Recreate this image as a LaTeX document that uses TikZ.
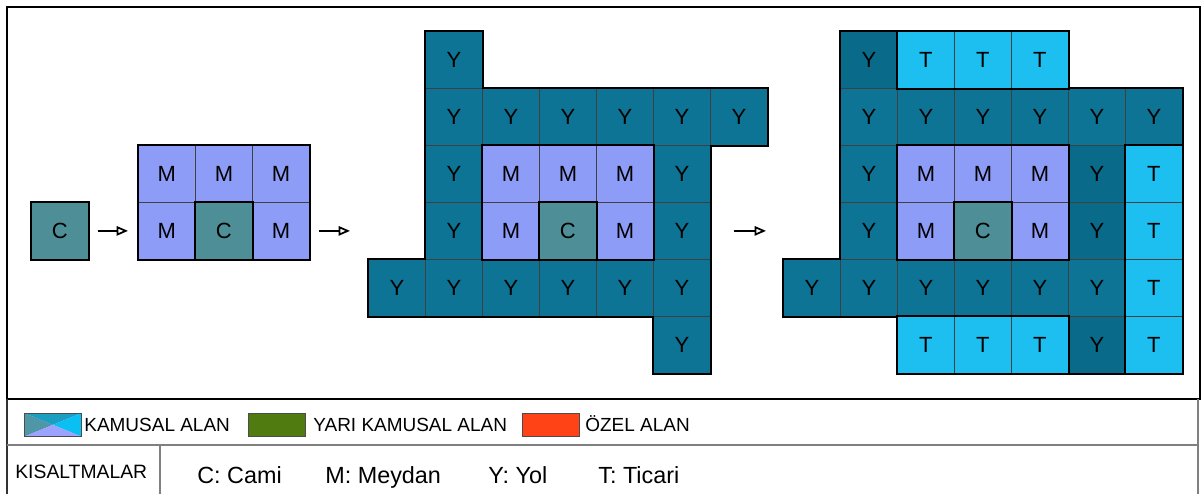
\documentclass[tikz,border=0pt]{standalone}
\usepackage{fontspec}
\setmainfont{Liberation Sans}
\usepackage{tikz}
\usetikzlibrary{arrows.meta,positioning}
\definecolor{yolBlue}{HTML}{0D7495}
\definecolor{yolDark}{HTML}{0A6A8A}
\definecolor{meydanViolet}{HTML}{8D9CF7}
\definecolor{camiTeal}{HTML}{4E8E97}
\definecolor{ticariCyan}{HTML}{1DBFF0}
\definecolor{yariGreen}{HTML}{4F7B10}
\definecolor{ozelRed}{HTML}{FF4316}
\definecolor{kamLeft}{HTML}{4F96A6}
\definecolor{kamTop}{HTML}{1B9EC2}
\definecolor{kamRight}{HTML}{0AC0F2}
\definecolor{kamBottom}{HTML}{9BA2FF}
\newcommand\hucrefont{\fontsize{12.5}{14}\selectfont}
\newcommand\lejantfont{\fontsize{10.8}{12}\selectfont}
\newcommand\kisafont{\fontsize{13.3}{15}\selectfont}

\begin{document}
\begin{tikzpicture}[
    x=0.2mm,y=-0.2mm,
    cell/.style={draw=black!75,line width=0.45pt,minimum size=11.4mm,inner sep=0pt,anchor=north west,font=\hucrefont},
    yol/.style={cell,fill=yolBlue},
    koyu/.style={cell,fill=yolDark},
    meydan/.style={cell,fill=meydanViolet},
    cami/.style={cell,fill=camiTeal},
    ticari/.style={cell,fill=ticariCyan},
    edge/.style={line width=1.1pt,line join=miter},
    arrow/.style={-{Triangle[open,length=2.3mm,width=1.9mm]},line width=1pt},
    swatch/.style={draw=black!70,line width=0.4pt,minimum width=11.4mm,minimum height=4.6mm,inner sep=0pt,anchor=north west},
    lejant/.style={inner sep=0pt,anchor=base west,font=\lejantfont},
    kisa/.style={inner sep=0pt,anchor=base west,font=\kisafont},
    frameline/.style={draw=black!50,line width=0.6pt}
  ]
    \useasboundingbox (0,0) rectangle (1203,494);

    % stage 1 and 2
    \node[cami] (s1) at (31,202) {C};
    \foreach \c/\r/\s/\l in {0/2/meydan/M,1/2/meydan/M,2/2/meydan/M,
                            0/3/meydan/M,1/3/cami/C,2/3/meydan/M}
      \node[\s] (s2-\c-\r) at ({138+57*\c},{31+57*\r}) {\l};

    % stage 3
    \foreach \c/\r/\s/\l in {1/0/yol/Y,
        1/1/yol/Y,2/1/yol/Y,3/1/yol/Y,4/1/yol/Y,5/1/yol/Y,6/1/yol/Y,
        1/2/yol/Y,2/2/meydan/M,3/2/meydan/M,4/2/meydan/M,5/2/yol/Y,
        1/3/yol/Y,2/3/meydan/M,3/3/cami/C,4/3/meydan/M,5/3/yol/Y,
        0/4/yol/Y,1/4/yol/Y,2/4/yol/Y,3/4/yol/Y,4/4/yol/Y,5/4/yol/Y,
        5/5/yol/Y}
      \node[\s] (s3-\c-\r) at ({368+57*\c},{31+57*\r}) {\l};

    % stage 4
    \foreach \c/\r/\s/\l in {1/0/koyu/Y,2/0/ticari/T,3/0/ticari/T,4/0/ticari/T,
        1/1/yol/Y,2/1/yol/Y,3/1/yol/Y,4/1/yol/Y,5/1/yol/Y,6/1/yol/Y,
        1/2/yol/Y,2/2/meydan/M,3/2/meydan/M,4/2/meydan/M,5/2/koyu/Y,6/2/ticari/T,
        1/3/yol/Y,2/3/meydan/M,3/3/cami/C,4/3/meydan/M,5/3/koyu/Y,6/3/ticari/T,
        0/4/yol/Y,1/4/yol/Y,2/4/yol/Y,3/4/yol/Y,4/4/yol/Y,5/4/yol/Y,6/4/ticari/T,
        2/5/ticari/T,3/5/ticari/T,4/5/ticari/T,5/5/koyu/Y,6/5/ticari/T}
      \node[\s] (s4-\c-\r) at ({783+57*\c},{31+57*\r}) {\l};

    % thick outlines
    \draw[edge] (s1.north west) rectangle (s1.south east);
    \draw[edge] (s2-0-2.north west) rectangle (s2-2-3.south east);
    \draw[edge] (s2-1-3.north west) rectangle (s2-1-3.south east);
    \draw[edge] (s3-1-0.north west) -- (s3-1-0.north east) |- (s3-6-1.north east)
      -- (s3-6-1.south east) -| (s3-5-5.south east) -- (s3-5-5.south west)
      |- (s3-0-4.south west) -- (s3-0-4.north west) -| (s3-1-0.north west) -- cycle;
    \draw[edge] (s3-2-2.north west) rectangle (s3-4-3.south east);
    \draw[edge] (s3-3-3.north west) rectangle (s3-3-3.south east);
    \draw[edge] (s4-1-0.north west) -- (s4-4-0.north east) |- (s4-6-1.north east)
      -- (s4-6-5.south east) -- (s4-2-5.south west)
      |- (s4-0-4.south west) -- (s4-0-4.north west) -| (s4-1-0.north west) -- cycle;
    \draw[edge] (s4-2-0.north west) rectangle (s4-4-0.south east);
    \draw[edge] (s4-6-2.north west) rectangle (s4-6-5.south east);
    \draw[edge] (s4-2-5.north west) rectangle (s4-4-5.south east);
    \draw[edge] (s4-2-2.north west) rectangle (s4-4-3.south east);
    \draw[edge] (s4-3-3.north west) rectangle (s4-3-3.south east);

    % arrows
    \draw[arrow,shorten <=1.8mm,shorten >=2mm] (s1.east) -- (s2-0-3.west);
    \draw[arrow,shorten <=1.8mm,shorten >=15mm] (s2-2-3.east) -- (s3-1-3.west);
    \draw[arrow,shorten <=4.6mm,shorten >=14.8mm] (s3-5-3.east) -- (s4-1-3.west);

    % frame
    \draw[line width=1.2pt] (7,7) rectangle (1200,399);
    \draw[black!80,line width=0.8pt] (7,399) -- (7,494);
    \draw[frameline] (1198,399) -- (1198,494);
    \draw[frameline] (7,445) -- (1198,445);
    \draw[frameline] (160,445) -- (160,494);

    % legend
    \node[swatch] (kamusal) at (24,413) {};
    \fill[kamLeft] (kamusal.north west) -- (kamusal.center) -- (kamusal.south west) -- cycle;
    \fill[kamTop] (kamusal.north west) -- (kamusal.center) -- (kamusal.north east) -- cycle;
    \fill[kamRight] (kamusal.north east) -- (kamusal.center) -- (kamusal.south east) -- cycle;
    \fill[kamBottom] (kamusal.south west) -- (kamusal.center) -- (kamusal.south east) -- cycle;
    \draw[black!70,line width=0.4pt] (kamusal.north west) rectangle (kamusal.south east);
    \node[lejant] (kamusalText) at (84,431) {KAMUSAL ALAN};
    \node[swatch,fill=yariGreen] (yari) at (248,413) {};
    \node[lejant] (yariText) at (313,431) {YARI KAMUSAL ALAN};
    \node[swatch,fill=ozelRed] (ozel) at (522,413) {};
    \node[lejant] (ozelText) at (585,431) {ÖZEL ALAN};

    \node[inner sep=0pt,anchor=base west,font=\fontsize{11}{13}\selectfont] (kisaltma) at (15,478) {KISALTMALAR};
    \node[kisa] (cKisa) at (197,483) {C: Cami};
    \node[kisa] (mKisa) at (325,483) {M: Meydan};
    \node[kisa] (yKisa) at (488,483) {Y: Yol};
    \node[kisa] (tKisa) at (598,483) {T: Ticari};
  \end{tikzpicture}
\end{document}
